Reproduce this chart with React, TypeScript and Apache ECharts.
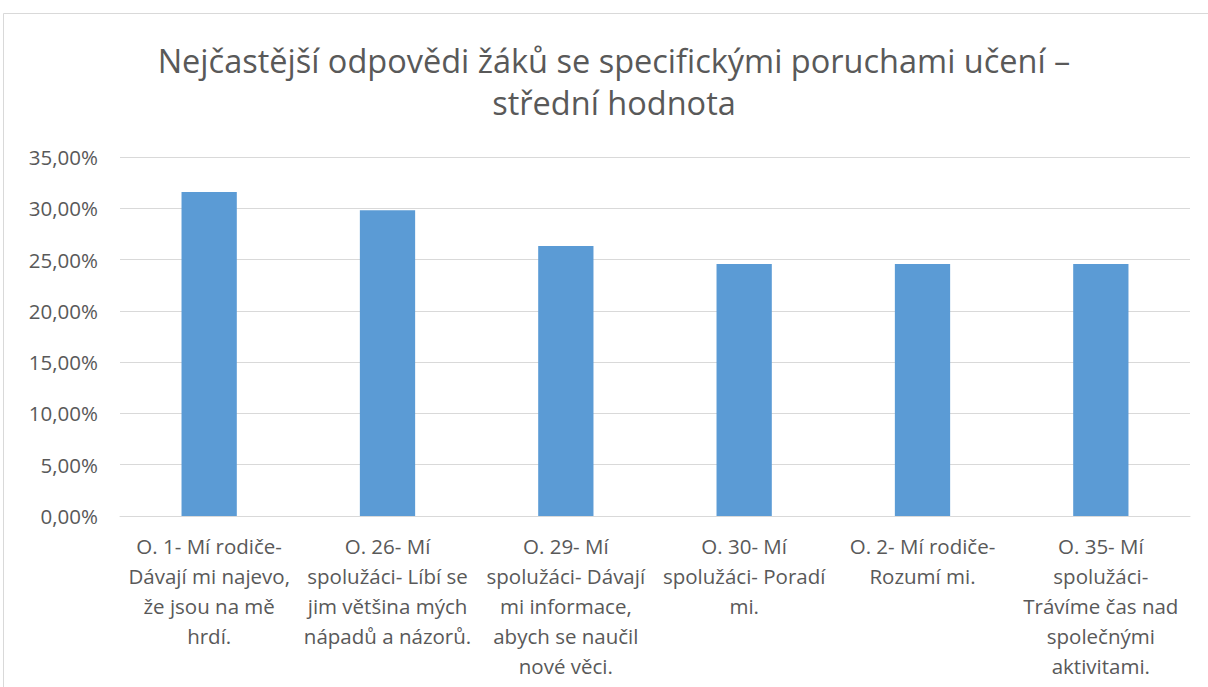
import React, { useEffect, useRef } from "react";
import * as echarts from "echarts";

const titleText = "Nejčastější odpovědi žáků se specifickými poruchami učení –\nstřední hodnota";
const categories = [
  "O. 1- Mí rodiče-\nDávají mi najevo,\nže jsou na mě\nhrdí.",
  "O. 26- Mí\nspolužáci- Líbí se\njim většina mých\nnápadů a názorů.",
  "O. 29- Mí\nspolužáci- Dávají\nmi informace,\nabych se naučil\nnové věci.",
  "O. 30- Mí\nspolužáci- Poradí\nmi.",
  "O. 2- Mí rodiče-\nRozumí mi.",
  "O. 35- Mí\nspolužáci-\nTrávíme čas nad\nspolečnými\naktivitami.",
];
const values = [0.3158, 0.2982, 0.2632, 0.2456, 0.2456, 0.2456];
const yMin = 0;
const yMax = 0.35;
const yStep = 0.05;

const FONT = "'Open Sans', sans-serif";

export default function App() {
  const ref = useRef<HTMLDivElement>(null);
  useEffect(() => {
    if (!ref.current) return;
    const chart = echarts.init(ref.current, undefined, { renderer: "svg" });
    chart.setOption({
      animation: false,
      backgroundColor: "#ffffff",
      title: {
        text: titleText,
        left: 614,
        top: 39,
        textAlign: "center",
        padding: 0,
        textStyle: {
          fontFamily: FONT,
          fontSize: 32.5,
          fontWeight: "normal",
          color: "#595959",
          lineHeight: 42,
        },
      },
      graphic: [
        {
          type: "rect",
          shape: { x: 3.5, y: 13.5, width: 1230, height: 700 },
          style: { fill: "none", stroke: "#d9d9d9", lineWidth: 1 },
          silent: true,
        },
      ],
      grid: { left: 120, right: 18, top: 157, bottom: 171 },
      xAxis: {
        type: "category",
        data: categories,
        axisTick: { show: false },
        axisLine: { lineStyle: { color: "#d9d9d9" } },
        axisLabel: {
          interval: 0,
          fontFamily: FONT,
          fontSize: 20.5,
          color: "#595959",
          lineHeight: 30,
          margin: 15,
        },
      },
      yAxis: {
        type: "value",
        min: yMin,
        max: yMax,
        interval: yStep,
        axisLine: { show: false },
        axisTick: { show: false },
        splitLine: { lineStyle: { color: "#d9d9d9" } },
        axisLabel: {
          fontFamily: FONT,
          fontSize: 20.5,
          color: "#595959",
          margin: 22,
          formatter: (v: number) => (v * 100).toFixed(2).replace(".", ",") + "%",
        },
      },
      series: [
        {
          type: "bar",
          data: values,
          barCategoryGap: "69%",
          itemStyle: { color: "#5b9bd5" },
        },
      ],
    });
    return () => chart.dispose();
  }, []);
  return (
    <div
      ref={ref}
      style={{ position: "absolute", left: 0, top: 0, width: 1208, height: 687 }}
    />
  );
}
